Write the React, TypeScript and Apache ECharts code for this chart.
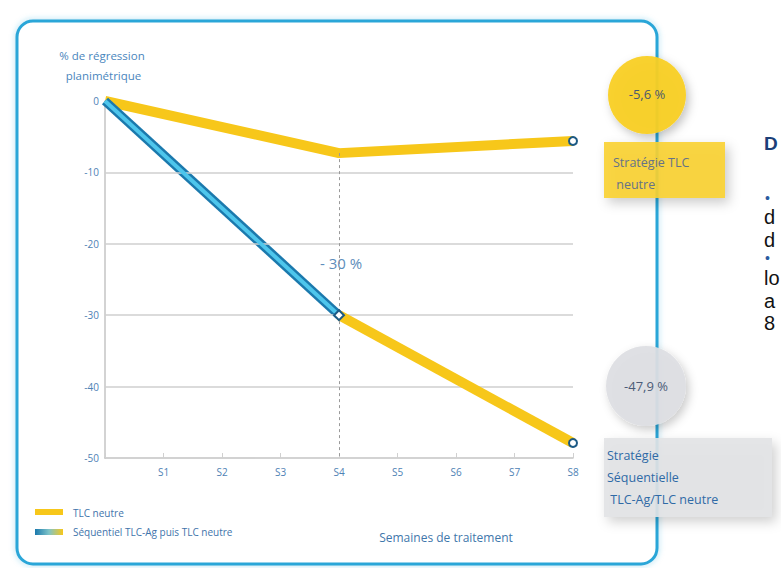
import React, { useEffect, useRef } from "react";
import * as echarts from "echarts";

const weeks = ["S0", "S1", "S2", "S3", "S4", "S5", "S6", "S7", "S8"];
const tlcNeutre = [0, null, null, null, -7.3, null, null, null, -5.6];
const seqAg = [0, null, null, null, -30, null, null, null, null];
const seqNeutre = [null, null, null, null, -30, null, null, null, -47.9];
const gridValues = [-10, -20, -30, -40];
const yTicks = { min: -50, max: 0, interval: 10 };
const dropLine = { week: "S4", from: -7.3, to: -50 };

const YELLOW = "#f7c71a";
const MARK = { color: "#ffffff", borderColor: "#1c5a85", borderWidth: 2 };

export default function App() {
  const ref = useRef<HTMLDivElement>(null);
  useEffect(() => {
    document.body.style.margin = "0";
    const chart = echarts.init(ref.current!, null, { renderer: "svg" });
    const markerAt = (arr: (number | null)[], idx: number, sym: string, size: number, rot = 0) =>
      arr.map((v, i) =>
        i === idx && v !== null
          ? { value: v, symbol: sym, symbolSize: size, symbolRotate: rot, itemStyle: MARK }
          : v
      );
    chart.setOption({
      animation: false,
      backgroundColor: "#ffffff",
      grid: { left: 105, right: 208, top: 101, bottom: 110 },
      xAxis: {
        type: "category",
        data: weeks,
        boundaryGap: false,
        axisLine: { onZero: false, lineStyle: { color: "#c4c4c4", width: 1.5 } },
        axisTick: { inside: true, length: 5, lineStyle: { color: "#d0d0d0" }, interval: 0 },
        axisLabel: {
          interval: 0,
          margin: 9,
          color: "#4f82b5",
          fontSize: 10,
          fontFamily: "Open Sans",
          formatter: (v: string) => (v === "S0" ? "" : v),
        },
        splitLine: { show: false },
      },
      yAxis: {
        type: "value",
        min: yTicks.min,
        max: yTicks.max,
        interval: yTicks.interval,
        axisLine: { show: true, lineStyle: { color: "#c4c4c4", width: 1.5 } },
        axisTick: { show: false },
        axisLabel: { color: "#4f82b5", fontSize: 10, margin: 6, fontFamily: "Open Sans" },
        splitLine: { show: false },
      },
      series: [
        {
          type: "line",
          data: [],
          z: 1,
          silent: true,
          markLine: {
            silent: true,
            symbol: "none",
            label: { show: false },
            lineStyle: { color: "#cfcfcf", width: 1.5, type: "solid" },
            data: [
              ...gridValues.map((v) => ({ yAxis: v })),
              [
                { coord: [dropLine.week, dropLine.from], lineStyle: { color: "#9a9a9a", width: 1, type: [3, 3] } },
                { coord: [dropLine.week, dropLine.to] },
              ],
            ],
          },
        },
        {
          name: "TLC neutre",
          type: "line",
          z: 3,
          connectNulls: true,
          symbol: "none",
          showSymbol: true,
          data: markerAt(tlcNeutre, 8, "circle", 8),
          lineStyle: { color: YELLOW, width: 10 },
          itemStyle: { color: YELLOW },
        },
        {
          name: "Séquentiel TLC-Ag",
          type: "line",
          z: 4,
          connectNulls: true,
          symbol: "none",
          data: seqAg,
          lineStyle: { color: "#1b79ad", width: 9 },
        },
        {
          name: "Séquentiel TLC-Ag inner",
          type: "line",
          z: 5,
          connectNulls: true,
          symbol: "none",
          data: seqAg,
          lineStyle: { color: "#4ec6ec", width: 4 },
        },
        {
          name: "Séquentiel puis TLC neutre",
          type: "line",
          z: 6,
          connectNulls: true,
          symbol: "none",
          showSymbol: true,
          data: markerAt(markerAt(seqNeutre, 8, "circle", 8), 4, "rect", 7, 45),
          lineStyle: { color: YELLOW, width: 10 },
          itemStyle: { color: YELLOW },
        },
      ],
      graphic: [
        {
          type: "rect",
          z: -10,
          shape: { x: 17, y: 21, width: 640, height: 543, r: 16 },
          style: { fill: "#ffffff", stroke: "#2aa6d8", lineWidth: 3, shadowBlur: 6, shadowColor: "rgba(42,166,216,0.35)" },
        },
        {
          type: "text",
          x: 102,
          y: 45,
          style: {
            text: "% de régression\n planimétrique",
            fill: "#4a86bd",
            fontSize: 11.5,
            lineHeight: 20,
            fontFamily: "Open Sans",
            align: "center",
            verticalAlign: "top",
          },
        },
        {
          type: "text",
          x: 341,
          y: 263,
          style: { text: "- 30 %", fill: "#5d8dbb", fontSize: 15, fontFamily: "Open Sans", align: "center", verticalAlign: "middle" },
        },
        {
          type: "text",
          x: 446,
          y: 537,
          style: { text: "Semaines de traitement", fill: "#3f77ab", fontSize: 12, fontFamily: "Open Sans", align: "center", verticalAlign: "middle" },
        },
        { type: "rect", shape: { x: 35, y: 509, width: 28, height: 6 }, style: { fill: YELLOW } },
        {
          type: "text",
          x: 73,
          y: 513,
          style: { text: "TLC neutre", fill: "#3f74ab", fontSize: 10, fontFamily: "Open Sans", verticalAlign: "middle" },
        },
        {
          type: "rect",
          shape: { x: 35, y: 529, width: 28, height: 6 },
          style: {
            fill: new echarts.graphic.LinearGradient(0, 0, 1, 0, [
              { offset: 0, color: "#1b79ad" },
              { offset: 0.5, color: "#7fc4c8" },
              { offset: 1, color: YELLOW },
            ]),
          },
        },
        {
          type: "text",
          x: 73,
          y: 532,
          style: { text: "Séquentiel TLC-Ag puis TLC neutre", fill: "#3f74ab", fontSize: 10, fontFamily: "Open Sans", verticalAlign: "middle" },
        },
        // Callout TLC neutre
        {
          type: "circle",
          shape: { cx: 647, cy: 95, r: 39 },
          style: { fill: "rgba(249,207,36,0.94)", shadowBlur: 10, shadowOffsetX: 3, shadowOffsetY: 4, shadowColor: "rgba(0,0,0,0.25)" },
        },
        {
          type: "text",
          x: 647,
          y: 94,
          style: { text: "-5,6 %", fill: "#4b5a6e", fontSize: 13, fontFamily: "Open Sans", align: "center", verticalAlign: "middle" },
        },
        {
          type: "rect",
          shape: { x: 604, y: 142, width: 121, height: 56 },
          style: { fill: "rgba(249,210,50,0.9)", shadowBlur: 12, shadowOffsetX: 4, shadowOffsetY: 5, shadowColor: "rgba(0,0,0,0.22)" },
        },
        {
          type: "text",
          x: 613,
          y: 151,
          style: { text: "Stratégie TLC\n neutre", fill: "#657289", fontSize: 12.5, lineHeight: 22, fontFamily: "Open Sans", verticalAlign: "top" },
        },
        // Callout séquentielle
        {
          type: "circle",
          shape: { cx: 646, cy: 386, r: 40 },
          style: { fill: "rgba(222,223,227,0.93)", shadowBlur: 10, shadowOffsetX: 3, shadowOffsetY: 4, shadowColor: "rgba(0,0,0,0.22)" },
        },
        {
          type: "text",
          x: 646,
          y: 386,
          style: { text: "-47,9 %", fill: "#4b5c78", fontSize: 13, fontFamily: "Open Sans", align: "center", verticalAlign: "middle" },
        },
        {
          type: "rect",
          shape: { x: 604, y: 438, width: 168, height: 79 },
          style: { fill: "rgba(226,227,230,0.9)", shadowBlur: 12, shadowOffsetX: 4, shadowOffsetY: 5, shadowColor: "rgba(0,0,0,0.2)" },
        },
        {
          type: "text",
          x: 607,
          y: 444,
          style: {
            text: "Stratégie\nSéquentielle\n TLC-Ag/TLC neutre",
            fill: "#2f6aa6",
            fontSize: 12.5,
            lineHeight: 22,
            fontFamily: "Open Sans",
            verticalAlign: "top",
          },
        },
        // Cropped page text on the right
        { type: "text", x: 764, y: 143, style: { text: "D", fill: "#1b3f78", fontSize: 19, fontWeight: "bold", fontFamily: "Liberation Sans", verticalAlign: "middle" } },
        { type: "text", x: 765, y: 198, style: { text: "•", fill: "#2a5aa0", fontSize: 14, fontFamily: "Liberation Sans", verticalAlign: "middle" } },
        { type: "text", x: 764, y: 217, style: { text: "d", fill: "#111", fontSize: 20, fontFamily: "Liberation Sans", verticalAlign: "middle" } },
        { type: "text", x: 764, y: 240, style: { text: "d", fill: "#111", fontSize: 20, fontFamily: "Liberation Sans", verticalAlign: "middle" } },
        { type: "text", x: 765, y: 258, style: { text: "•", fill: "#2a5aa0", fontSize: 14, fontFamily: "Liberation Sans", verticalAlign: "middle" } },
        { type: "text", x: 764, y: 278, style: { text: "lo", fill: "#111", fontSize: 20, fontFamily: "Liberation Sans", verticalAlign: "middle" } },
        { type: "text", x: 764, y: 301, style: { text: "a", fill: "#111", fontSize: 20, fontFamily: "Liberation Sans", verticalAlign: "middle" } },
        { type: "text", x: 764, y: 323, style: { text: "8", fill: "#111", fontSize: 20, fontFamily: "Liberation Sans", verticalAlign: "middle" } },
      ],
    });
    return () => chart.dispose();
  }, []);
  return <div ref={ref} style={{ position: "fixed", left: 0, top: 0, width: 781, height: 568 }} />;
}
